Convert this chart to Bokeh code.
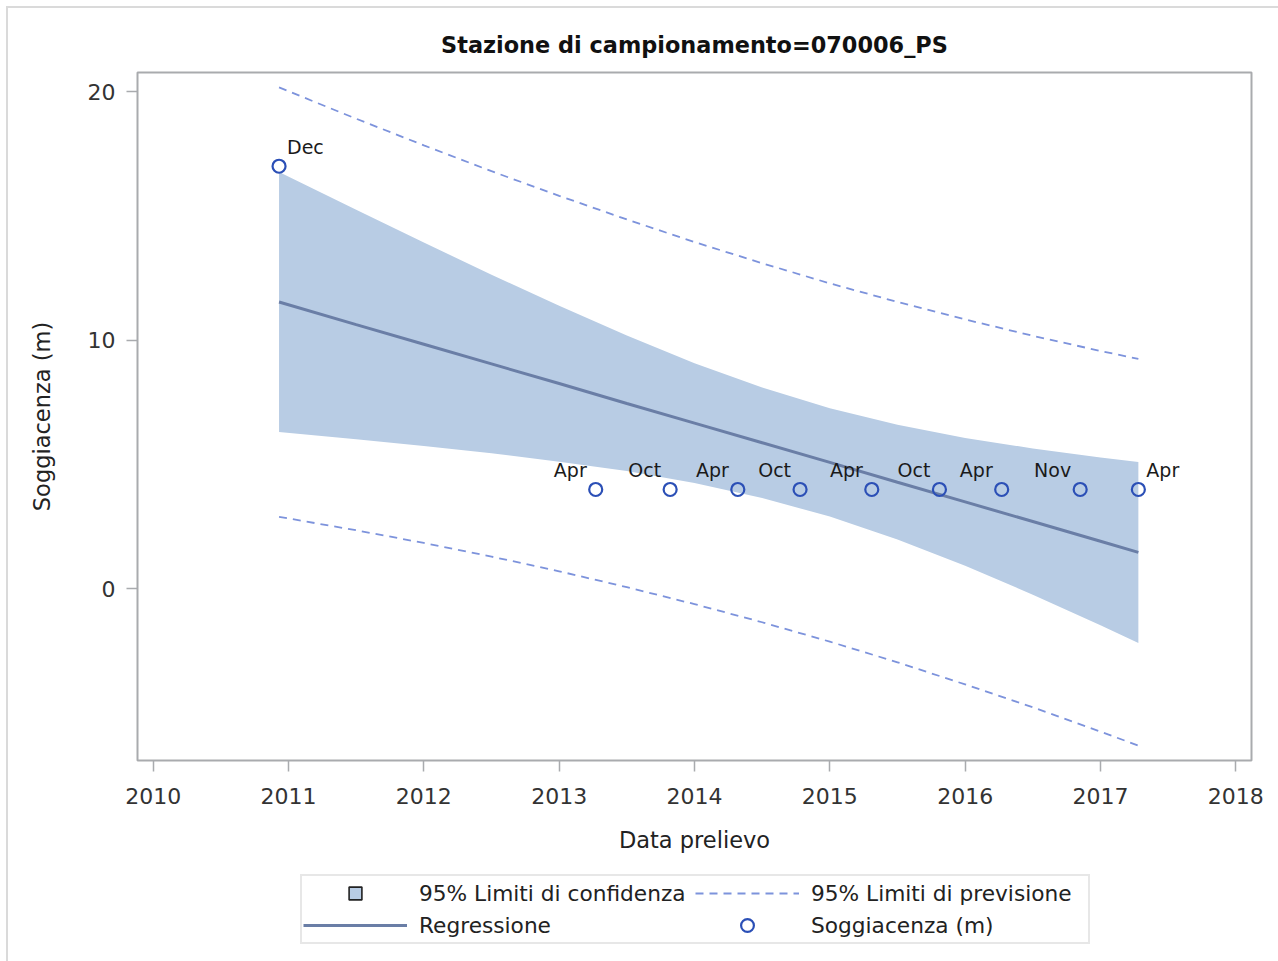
from bokeh.plotting import figure
from bokeh.layouts import column
from bokeh.models import Range1d, FixedTicker, Legend, LegendItem, ColumnDataSource
from bokeh.core.properties import value
from bokeh.embed import file_html
from bokeh.resources import INLINE

# ---------------- data ----------------
obs_year = [2010.93, 2013.27, 2013.82, 2014.32, 2014.78, 2015.31, 2015.81, 2016.27, 2016.85, 2017.28]
obs_month = ["Dec", "Apr", "Oct", "Apr", "Oct", "Apr", "Oct", "Apr", "Nov", "Apr"]
obs_depth = [17.0, 4.0, 4.0, 4.0, 4.0, 4.0, 4.0, 4.0, 4.0, 4.0]
label_side = ["right", "left", "left", "left", "left", "left", "left", "left", "left", "right"]

band_year = [2010.93, 2011.5, 2012.0, 2012.5, 2013.0, 2013.5, 2014.0, 2014.5,
             2015.0, 2015.5, 2016.0, 2016.5, 2017.0, 2017.28]
fit_depth = [11.54, 10.63, 9.84, 9.05, 8.26, 7.46, 6.67, 5.88, 5.09, 4.29, 3.50, 2.71, 1.92, 1.47]
clm_lower = [6.31, 6.02, 5.75, 5.46, 5.12, 4.74, 4.26, 3.66, 2.91, 1.99, 0.93, -0.23, -1.46, -2.17]
clm_upper = [16.77, 15.25, 13.93, 12.64, 11.39, 10.19, 9.08, 8.10, 7.27, 6.60, 6.07, 5.65, 5.29, 5.11]
cli_lower = [2.90, 2.36, 1.85, 1.30, 0.71, 0.07, -0.61, -1.34, -2.12, -2.95, -3.84, -4.76, -5.74, -6.30]
cli_upper = [20.17, 18.91, 17.84, 16.80, 15.81, 14.86, 13.95, 13.10, 12.29, 11.54, 10.84, 10.18, 9.57, 9.25]

x_ticks = [2010, 2011, 2012, 2013, 2014, 2015, 2016, 2017, 2018]
y_ticks = [0, 10, 20]

title_text = "Stazione di campionamento=070006_PS"
x_label = "Data prelievo"
y_label = "Soggiacenza (m)"
legend_labels = ["95% Limiti di confidenza", "95% Limiti di previsione", "Regressione", "Soggiacenza (m)"]

# ---------------- styling ----------------
FONT = "DejaVu Sans"
BAND = "#B8CCE4"
FIT = "#6A7EA6"
PRED = "#7D93DC"
MARK = "#2B4FB6"
FRAME = "#A9ABAE"
NAN = float("nan")

W = 1270
H_MAIN, H_LEG = 862, 91

p = figure(width=W, height=H_MAIN, output_backend="svg", toolbar_location=None,
           x_range=Range1d(2009.884, 2018.116), y_range=Range1d(-6.9, 20.77),
           min_border_left=129, min_border_right=27, min_border_top=64, min_border_bottom=110)

p.background_fill_color = "white"
p.border_fill_color = "white"
p.outline_line_color = FRAME
p.outline_line_width = 2
p.xgrid.visible = False
p.ygrid.visible = False

p.title.text = title_text
p.title.align = "center"
p.title.text_font = FONT
p.title.text_font_size = "22.4px"
p.title.text_font_style = "bold"
p.title.text_color = "#111111"
p.title.standoff = 29

for ax in (p.xaxis[0], p.yaxis[0]):
    ax.axis_line_color = None
    ax.major_tick_line_color = FRAME
    ax.major_tick_line_width = 1.5
    ax.major_tick_in = 0
    ax.major_tick_out = 11
    ax.minor_tick_line_color = None
    ax.major_label_text_font = FONT
    ax.major_label_text_font_size = "22px"
    ax.major_label_text_color = "#333333"
    ax.axis_label_text_font = FONT
    ax.axis_label_text_font_size = "22.5px"
    ax.axis_label_text_font_style = "normal"
    ax.axis_label_text_color = "#222222"

p.xaxis[0].ticker = FixedTicker(ticks=x_ticks)
p.yaxis[0].ticker = FixedTicker(ticks=y_ticks)
p.xaxis[0].axis_label = x_label
p.yaxis[0].axis_label = y_label
p.xaxis[0].major_label_standoff = 16
p.xaxis[0].axis_label_standoff = 20
p.yaxis[0].major_label_standoff = 11
p.yaxis[0].axis_label_standoff = 30

# confidence band
p.varea(x=band_year, y1=clm_lower, y2=clm_upper, fill_color=BAND, fill_alpha=1.0)
# regression line
p.line(x=band_year, y=fit_depth, line_color=FIT, line_width=3)
# prediction limits
p.line(x=band_year, y=cli_upper, line_color=PRED, line_width=1.8, line_dash="8 6")
p.line(x=band_year, y=cli_lower, line_color=PRED, line_width=1.8, line_dash="8 6")
# observations
p.scatter(x=obs_year, y=obs_depth, marker="circle", size=13, fill_color=None,
          line_color=MARK, line_width=2.2)

# month labels
left_src = ColumnDataSource(dict(
    x=[x for x, s in zip(obs_year, label_side) if s == "left"],
    y=[y for y, s in zip(obs_depth, label_side) if s == "left"],
    t=[m for m, s in zip(obs_month, label_side) if s == "left"]))
right_src = ColumnDataSource(dict(
    x=[x for x, s in zip(obs_year, label_side) if s == "right"],
    y=[y for y, s in zip(obs_depth, label_side) if s == "right"],
    t=[m for m, s in zip(obs_month, label_side) if s == "right"]))
p.text(x="x", y="y", text="t", source=left_src, text_font=value(FONT), text_font_size="19px",
       text_align="right", text_baseline="middle", x_offset=-9, y_offset=-19, text_color="#1a1a1a")
p.text(x="x", y="y", text="t", source=right_src, text_font=value(FONT), text_font_size="19px",
       text_align="left", text_baseline="middle", x_offset=8, y_offset=-19, text_color="#1a1a1a")

# ---------------- legend strip (separate figure below the chart) ----------------
lf = figure(width=W, height=H_LEG, output_backend="svg", toolbar_location=None,
            x_range=Range1d(0, 1), y_range=Range1d(0, 1), title_location=None,
            x_axis_location=None, y_axis_location=None, min_border=0)
lf.outline_line_color = None
lf.background_fill_color = "white"
lf.border_fill_color = "white"
lf.xgrid.visible = False
lf.ygrid.visible = False

sw_clm = lf.scatter(x=[NAN], y=[NAN], marker="square", fill_color=BAND,
                    line_color="#222222", line_width=1.6)
sw_cli = lf.line(x=[NAN, NAN], y=[NAN, NAN], line_color=PRED, line_width=1.8, line_dash="8 6")
sw_fit = lf.line(x=[NAN, NAN], y=[NAN, NAN], line_color=FIT, line_width=3)
sw_obs = lf.scatter(x=[NAN], y=[NAN], marker="circle", fill_color=None,
                    line_color=MARK, line_width=2.2)

legend = Legend(items=[
    LegendItem(label=legend_labels[0], renderers=[sw_clm]),
    LegendItem(label=legend_labels[1], renderers=[sw_cli]),
    LegendItem(label=legend_labels[2], renderers=[sw_fit]),
    LegendItem(label=legend_labels[3], renderers=[sw_obs]),
], orientation="horizontal", ncols=2, location=(163, 17), margin=0,
    glyph_width=104, glyph_height=32, label_height=32, label_width=276,
    spacing=0, padding=1, label_standoff=12,
    label_text_font=FONT, label_text_font_size="21.7px", label_text_color="#222222",
    border_line_color="#CFCFCF", border_line_width=2, background_fill_color="white",
    background_fill_alpha=1.0)
lf.add_layout(legend, "center")

page = column(p, lf, spacing=0)
page.margin = (8, 0, 0, 8)
page.styles = {"outline": "2px solid #dadada"}

open("out.html", "w").write(file_html(page, INLINE))
